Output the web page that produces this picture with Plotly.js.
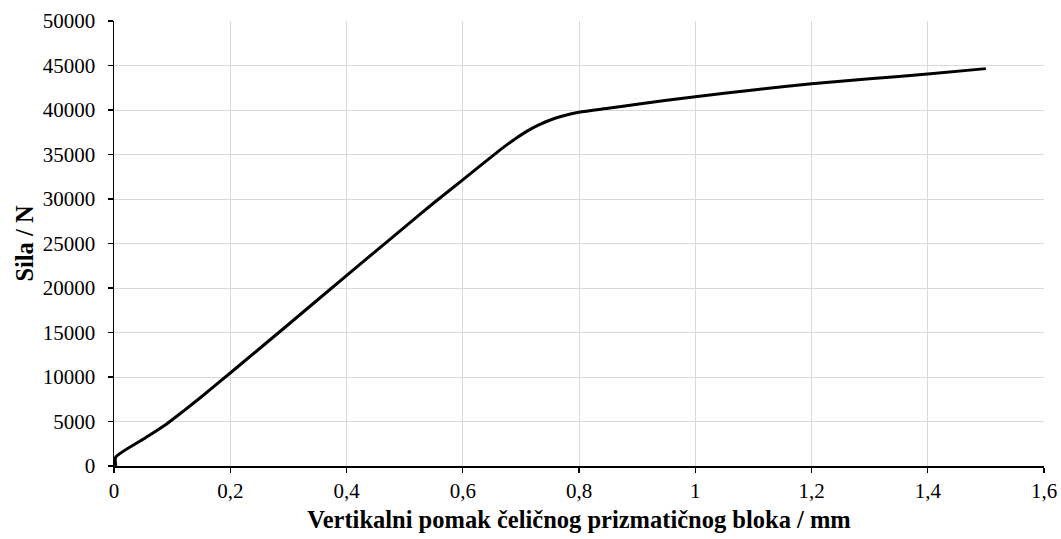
<!DOCTYPE html>
<html>
<head>
<meta charset="utf-8">
<script src="https://cdn.plot.ly/plotly-3.0.1.min.js"></script>
<style>html,body{margin:0;padding:0;background:#fff;}#chart{width:1061px;height:539px;}</style>
</head>
<body>
<div id="chart"></div>
<script>
const displacement = [0.003, 0.003, 0.05, 0.09, 0.12, 0.15, 0.2, 0.3, 0.4, 0.5, 0.55, 0.6, 0.64, 0.67, 0.69, 0.71, 0.73, 0.76, 0.8, 0.85, 0.9, 1.0, 1.1, 1.2, 1.3, 1.4, 1.5];
const force = [0, 1000, 3000, 4700, 6200, 7750, 10450, 15900, 21400, 26850, 29550, 32150, 34250, 35800, 36750, 37600, 38300, 39100, 39750, 40200, 40650, 41500, 42250, 42950, 43500, 44050, 44650];
const xTitle = 'Vertikalni pomak čeličnog prizmatičnog bloka / mm';
const yTitle = 'Sila / N';

const font = 'Liberation Serif, Times New Roman, serif';
Plotly.newPlot('chart', [{
  x: displacement, y: force, type: 'scatter', mode: 'lines',
  line: {color: '#000000', width: 3, shape: 'spline', smoothing: 0.6}, hoverinfo: 'skip'
}], {
  width: 1061, height: 539,
  margin: {l: 114, r: 17, t: 21, b: 73},
  paper_bgcolor: '#fff', plot_bgcolor: '#fff',
  separators: ',.',
  showlegend: false,
  font: {family: font, size: 21, color: '#000'},
  xaxis: {
    range: [0, 1.6], dtick: 0.2, tick0: 0,
    showgrid: true, gridcolor: '#d9d9d9', gridwidth: 1,
    zeroline: false, showline: true, linecolor: '#000', linewidth: 1.5,
    ticks: 'outside', ticklen: 5, tickcolor: '#000', tickwidth: 1.2,
    tickfont: {family: font, size: 21, color: '#000'},
    title: {text: '<b>' + xTitle + '</b>', font: {family: font, size: 24.5, color: '#000'}, standoff: 9}
  },
  yaxis: {
    range: [0, 50000], dtick: 5000, tick0: 0, tickformat: 'd',
    showgrid: true, gridcolor: '#d9d9d9', gridwidth: 1,
    zeroline: false, showline: true, linecolor: '#000', linewidth: 1.5,
    ticks: 'outside', ticklen: 5, tickcolor: '#000', tickwidth: 1.2,
    ticklabelstandoff: 8,
    tickfont: {family: font, size: 21, color: '#000'},
    title: {text: '<b>' + yTitle + '</b>', font: {family: font, size: 24.5, color: '#000'}, standoff: 2}
  }
}, {staticPlot: true});
</script>
</body>
</html>
